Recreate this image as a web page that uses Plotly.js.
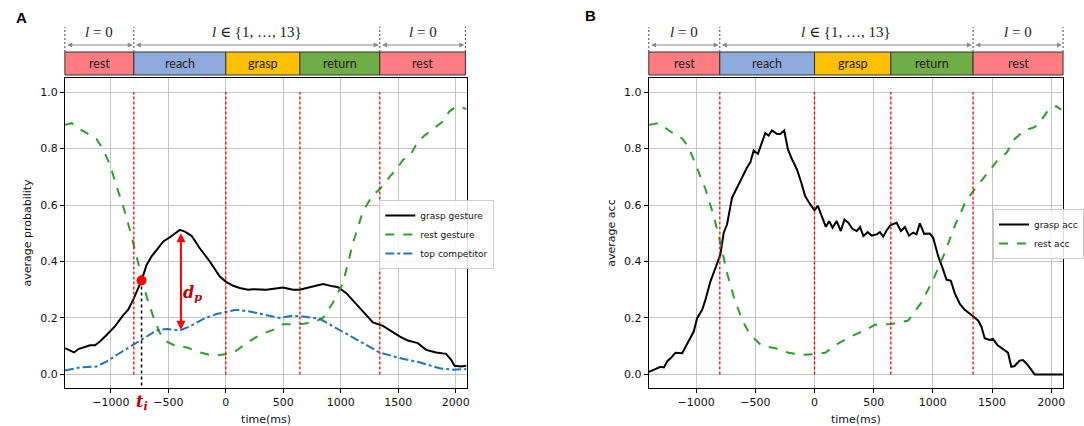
<!DOCTYPE html>
<html><head><meta charset="utf-8">
<script src="https://cdn.plot.ly/plotly-3.0.1.min.js"></script>
<style>body{margin:0;background:#fff}#plot{width:1084px;height:426px}</style>
</head><body><div id="plot"></div>
<script>
// ---------- Data ----------
// Panel A: grasp gesture probability
const timeGraspA = [-1400,-1355,-1320,-1282,-1225,-1181,-1138,-1095,-1037,-965,-892,-849,-805,-762,-733,-689,-646,-602,-544,-486,-443,-400,-356,-298,-226,-139,-52,0,64,122,194,237,353,498,585,643,730,846,933,977,1049,1136,1222,1280,1367,1440,1512,1584,1671,1743,1830,1917,1961,1990,2048,2092];
const graspGestureA = [0.093,0.085,0.078,0.09,0.097,0.103,0.103,0.117,0.14,0.17,0.21,0.229,0.265,0.306,0.333,0.388,0.418,0.44,0.471,0.486,0.50,0.512,0.506,0.491,0.447,0.40,0.347,0.329,0.314,0.306,0.30,0.302,0.30,0.308,0.30,0.30,0.309,0.32,0.312,0.309,0.288,0.25,0.211,0.184,0.172,0.152,0.135,0.12,0.111,0.087,0.078,0.073,0.052,0.031,0.028,0.031];
// Panel A: rest gesture probability
const timeRestA = [-1400,-1341,-1269,-1196,-1124,-1066,-1008,-950,-892,-834,-791,-747,-689,-631,-573,-515,-429,-342,-226,-110,0,64,180,295,411,498,643,759,846,933,1019,1106,1193,1280,1338,1425,1483,1541,1613,1671,1729,1801,1888,1946,2004,2048,2092];
const restGestureA = [0.884,0.89,0.869,0.852,0.834,0.796,0.743,0.666,0.595,0.512,0.442,0.36,0.276,0.205,0.146,0.117,0.099,0.096,0.078,0.066,0.073,0.076,0.111,0.14,0.158,0.178,0.178,0.184,0.2,0.255,0.323,0.465,0.577,0.636,0.655,0.70,0.725,0.76,0.782,0.825,0.846,0.869,0.896,0.932,0.949,0.947,0.94];
// Panel A: top competitor probability
const timeCompA = [-1400,-1269,-1124,-1037,-921,-805,-718,-602,-515,-400,-313,-197,-81,0,93,208,353,469,585,672,817,933,1049,1164,1338,1512,1686,1859,1975,2092];
const topCompetitorA = [0.014,0.025,0.028,0.046,0.076,0.105,0.129,0.156,0.161,0.156,0.17,0.196,0.214,0.22,0.229,0.223,0.211,0.20,0.208,0.205,0.197,0.17,0.146,0.117,0.078,0.058,0.043,0.022,0.017,0.019];
// Panel A annotations
const tiTime = -733, tiValue = 0.333;
const dpTime = -390, dpTop = 0.505, dpBottom = 0.158;

// Panel B: grasp accuracy
const timeGraspB = [-1399,-1343,-1301,-1272,-1244,-1216,-1174,-1118,-1076,-1020,-992,-949,-921,-879,-837,-795,-767,-739,-697,-654,-612,-570,-542,-514,-478,-444,-416,-388,-360,-317,-289,-256,-225,-191,-149,-112,-79,-37,0,28,62,96,124,152,188,222,253,287,320,357,385,413,449,483,525,553,581,610,643,694,730,764,798,834,862,890,927,975,1003,1045,1087,1115,1152,1185,1228,1270,1334,1382,1410,1438,1480,1508,1545,1593,1635,1663,1691,1733,1761,1803,1860,2098];
const graspAccB = [0.009,0.018,0.027,0.025,0.047,0.057,0.077,0.075,0.107,0.152,0.199,0.229,0.265,0.33,0.377,0.425,0.502,0.531,0.626,0.662,0.703,0.733,0.751,0.793,0.781,0.822,0.855,0.846,0.864,0.852,0.852,0.864,0.798,0.763,0.727,0.68,0.632,0.603,0.581,0.597,0.559,0.523,0.543,0.52,0.543,0.508,0.549,0.537,0.516,0.508,0.522,0.49,0.504,0.492,0.496,0.504,0.488,0.511,0.529,0.537,0.508,0.522,0.492,0.502,0.496,0.535,0.498,0.499,0.484,0.419,0.371,0.336,0.332,0.288,0.25,0.229,0.208,0.191,0.17,0.128,0.122,0.126,0.104,0.089,0.077,0.027,0.030,0.049,0.051,0.033,0.0,0.0];
// Panel B: rest accuracy
const timeRestB = [-1399,-1315,-1230,-1118,-1062,-992,-921,-851,-795,-739,-683,-612,-542,-444,-331,-219,-107,0,90,202,315,427,511,643,792,904,1003,1101,1185,1270,1334,1410,1494,1551,1621,1691,1775,1860,1916,1972,2042,2084];
const restAccB = [0.884,0.89,0.864,0.836,0.804,0.727,0.656,0.561,0.466,0.359,0.276,0.193,0.14,0.101,0.093,0.077,0.069,0.072,0.077,0.11,0.136,0.157,0.176,0.178,0.191,0.255,0.336,0.431,0.526,0.606,0.646,0.686,0.73,0.761,0.784,0.834,0.864,0.876,0.9,0.935,0.95,0.938];

// Movement phases
const phaseNames = ['rest','reach','grasp','return','rest'];
const phaseColors = ['#ff7c80','#8faadc','#ffc000','#70ad47','#ff7c80'];
const phaseBoundsA = [-1400,-800,0,645,1340,2085];
const phaseBoundsB = [-1400,-800,0,645,1340,2100];
const phaseLines = [-800,0,645,1340];
const labelTexts = ['<i>l</i> = 0','<i>l</i> ∈ {1, …, 13}','<i>l</i> = 0'];
const labelIdx = [[0,1],[1,4],[4,5]];

const xTicks = [-1000,-500,0,500,1000,1500,2000];
const yTicks = [0,0.2,0.4,0.6,0.8,1.0];

// ---------- Layout geometry ----------
const W = 1084, H = 426;
const xRange = [-1400, 2100];
const yRange = [-0.048, 1.05];
const domA = [65/W, 468/W];
const domB = [650/W, 1065/W];
const domY = [1-388/H, 1-78/H];
const py = p => 1 - p/H;
const toPaper = (t, dom) => dom[0] + (t - xRange[0])/(xRange[1]-xRange[0])*(dom[1]-dom[0]);

const tickFont = {family:'DejaVu Sans, sans-serif', size:11, color:'#111'};
function axisX(dom, anchor){
  return {domain:dom, anchor:anchor, range:xRange, tickvals:xTicks, ticks:'outside', ticklen:4, tickcolor:'#000',
    showgrid:true, gridcolor:'#c4c4c4', gridwidth:1, zeroline:false, showline:true, linecolor:'#000', linewidth:1, mirror:true,
    tickfont:tickFont, title:{text:'time(ms)', font:{family:'DejaVu Sans, sans-serif', size:11, color:'#111'}, standoff:8}};
}
function axisY(anchor, title){
  return {domain:domY, anchor:anchor, range:yRange, tickvals:yTicks, tickformat:'.1f', ticks:'outside', ticklen:4, tickcolor:'#000',
    showgrid:true, gridcolor:'#c4c4c4', gridwidth:1, zeroline:false, showline:true, linecolor:'#000', linewidth:1, mirror:true,
    tickfont:tickFont, title:{text:title, font:{family:'DejaVu Sans, sans-serif', size:11, color:'#111'}, standoff:6}};
}

const traces = [
  {x:timeGraspA, y:graspGestureA, xaxis:'x', yaxis:'y', mode:'lines', name:'grasp gesture', line:{color:'#000', width:2}, legend:'legend'},
  {x:timeRestA, y:restGestureA, xaxis:'x', yaxis:'y', mode:'lines', name:'rest gesture', line:{color:'#2ca02c', width:2, dash:'dash'}, legend:'legend'},
  {x:timeCompA, y:topCompetitorA, xaxis:'x', yaxis:'y', mode:'lines', name:'top competitor', line:{color:'#1f77b4', width:2, dash:'dashdot'}, legend:'legend'},
  {x:[tiTime,tiTime], y:[tiValue, yRange[0]+0.003], xaxis:'x', yaxis:'y', mode:'lines', showlegend:false, line:{color:'#000', width:1.5, dash:'dot'}, cliponaxis:false},
  {x:[tiTime], y:[tiValue], xaxis:'x', yaxis:'y', mode:'markers', showlegend:false, marker:{color:'#ff0000', size:10}},
  {x:timeGraspB, y:graspAccB, xaxis:'x2', yaxis:'y2', mode:'lines', name:'grasp acc', line:{color:'#000', width:2}, legend:'legend2'},
  {x:timeRestB, y:restAccB, xaxis:'x2', yaxis:'y2', mode:'lines', name:'rest acc', line:{color:'#2ca02c', width:2, dash:'dash'}, legend:'legend2'}
];

const shapes = [];
const annotations = [];
// red phase boundary lines inside both plots
phaseLines.forEach(t => {
  ['x','x2'].forEach((xr,i) => shapes.push({type:'line', xref:xr, yref:i?'y2':'y', x0:t, x1:t, y0:0, y1:1,
    line:{color:'#ff0000', width:1.3, dash:'3px,2px'}}));
});
// timeline bars above both panels
[[domA, phaseBoundsA, 'x'], [domB, phaseBoundsB, 'x2']].forEach(([dom, bounds, xr]) => {
  phaseNames.forEach((nm, i) => {
    const x0 = toPaper(bounds[i], dom), x1 = toPaper(bounds[i+1], dom);
    shapes.push({type:'rect', xref:'paper', yref:'paper', x0:x0, x1:x1, y0:py(75), y1:py(52),
      fillcolor:phaseColors[i], line:{color:'#333', width:1}});
    annotations.push({xref:'paper', yref:'paper', x:(x0+x1)/2, y:py(63.5), text:nm, showarrow:false,
      font:{family:'Lato, Open Sans, sans-serif', size:12.5, color:'#222'}, xanchor:'center', yanchor:'middle'});
  });
  // dotted verticals at segment ends
  [0,1,4,5].forEach(k => {
    const xp = toPaper(bounds[k], dom);
    shapes.push({type:'line', xref:'paper', yref:'paper', x0:xp, x1:xp, y0:py(52), y1:py(27),
      line:{color:'#444', width:1, dash:'2px,2px'}});
  });
  labelIdx.forEach(([a,b], j) => {
    const xa = toPaper(bounds[a], dom), xb = toPaper(bounds[b], dom);
    annotations.push({xref:'paper', yref:'paper', x:xb-0.001, y:py(45), ax:(xa-xb)*W+2, ay:0, axref:'pixel', ayref:'pixel',
      text:'', showarrow:true, arrowside:'end+start', arrowhead:2, startarrowhead:2, arrowsize:1, startarrowsize:1, arrowwidth:1, arrowcolor:'#8a8a8a'});
    annotations.push({xref:'paper', yref:'paper', x:(xa+xb)/2, y:py(32), text:labelTexts[j], showarrow:false,
      font:{family:'Liberation Serif, DejaVu Serif, serif', size:15, color:'#222'}, xanchor:'center', yanchor:'middle'});
  });
});
// panel letters
annotations.push({xref:'paper', yref:'paper', x:21.5/W, y:py(17.5), text:'<b>A</b>', showarrow:false,
  font:{family:'Liberation Sans, Arial, sans-serif', size:15, color:'#000'}, xanchor:'center', yanchor:'middle'});
annotations.push({xref:'paper', yref:'paper', x:591.5/W, y:py(16), text:'<b>B</b>', showarrow:false,
  font:{family:'Liberation Sans, Arial, sans-serif', size:15, color:'#000'}, xanchor:'center', yanchor:'middle'});
// d_p double arrow
annotations.push({xref:'x', yref:'y', x:dpTime, y:dpBottom, axref:'x', ayref:'y', ax:dpTime, ay:dpTop, text:'',
  showarrow:true, arrowside:'end+start', arrowhead:2, startarrowhead:2, arrowsize:0.9, startarrowsize:0.9, arrowwidth:2, arrowcolor:'#ff0000'});
annotations.push({xref:'x', yref:'y', x:dpTime+100, y:(dpTop+dpBottom)/2 - 0.045, text:'<b><i>d<sub>p</sub></i></b>', showarrow:false,
  font:{family:'DejaVu Serif, Liberation Serif, serif', size:16, color:'#c00000'}, xanchor:'center', yanchor:'middle'});
// t_i label below axis
annotations.push({xref:'x', yref:'paper', x:tiTime, y:py(402), text:'<b><i>t<sub>i</sub></i></b>', showarrow:false,
  font:{family:'DejaVu Serif, Liberation Serif, serif', size:16, color:'#c00000'}, xanchor:'center', yanchor:'middle'});

const legendCommon = {xanchor:'left', yanchor:'top', bgcolor:'rgba(255,255,255,0.85)', bordercolor:'#cccccc', borderwidth:1,
  font:{family:'DejaVu Sans, sans-serif', size:9, color:'#111'}, itemwidth:30, tracegroupgap:0};

const layout = {
  width:W, height:H, margin:{l:0, r:0, t:0, b:0}, paper_bgcolor:'#fff', plot_bgcolor:'#fff',
  xaxis:axisX(domA,'y'), yaxis:axisY('x','average probability'),
  xaxis2:axisX(domB,'y2'), yaxis2:axisY('x2','average acc'),
  showlegend:true,
  legend:Object.assign({x:380/W, y:py(200)}, legendCommon),
  legend2:Object.assign({x:995/W, y:py(209)}, legendCommon),
  shapes:shapes, annotations:annotations
};
Plotly.newPlot('plot', traces, layout, {displayModeBar:false, staticPlot:true});
</script></body></html>
